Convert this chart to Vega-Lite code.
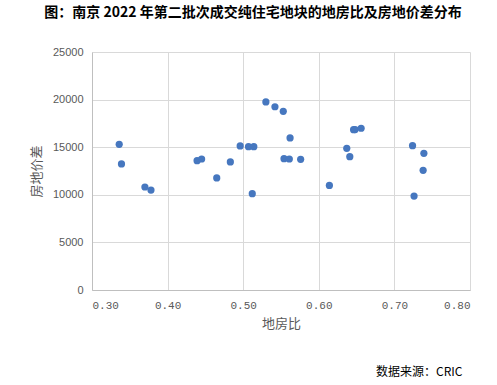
{
  "$schema": "https://vega.github.io/schema/vega-lite/v6.json",
  "width": 378,
  "height": 238,
  "autosize": {"type": "none"},
  "padding": {"left": 92, "top": 52, "right": 27, "bottom": 95},
  "background": "white",
  "title": {
    "text": "图：南京 2022 年第二批次成交纯住宅地块的地房比及房地价差分布",
    "font": "Noto Sans CJK SC",
    "fontSize": 14,
    "fontWeight": "bold",
    "color": "#000000",
    "anchor": "middle",
    "dx": -28,
    "offset": 26
  },
  "config": {
    "view": {"stroke": null}
  },
  "data": {
    "values": [
      {"r": 0.336, "d": 15300},
      {"r": 0.339, "d": 13240},
      {"r": 0.370, "d": 10820},
      {"r": 0.378, "d": 10500},
      {"r": 0.439, "d": 13580},
      {"r": 0.445, "d": 13760},
      {"r": 0.465, "d": 11770},
      {"r": 0.483, "d": 13450},
      {"r": 0.496, "d": 15130},
      {"r": 0.507, "d": 15060},
      {"r": 0.514, "d": 15060},
      {"r": 0.512, "d": 10120},
      {"r": 0.530, "d": 19750},
      {"r": 0.542, "d": 19250},
      {"r": 0.553, "d": 18770},
      {"r": 0.562, "d": 15970},
      {"r": 0.554, "d": 13790},
      {"r": 0.561, "d": 13760},
      {"r": 0.576, "d": 13730},
      {"r": 0.614, "d": 10990},
      {"r": 0.637, "d": 14880},
      {"r": 0.641, "d": 14000},
      {"r": 0.646, "d": 16840},
      {"r": 0.648, "d": 16850},
      {"r": 0.656, "d": 16990},
      {"r": 0.724, "d": 15160},
      {"r": 0.739, "d": 14360},
      {"r": 0.738, "d": 12570},
      {"r": 0.726, "d": 9870}
    ]
  },
  "layer": [
    {
      "mark": {"type": "circle", "size": 52, "color": "#4677BF", "opacity": 1},
      "encoding": {
        "x": {
          "field": "r", "type": "quantitative",
          "scale": {"domain": [0.3, 0.8], "nice": false, "zero": false},
          "axis": {
            "values": [0.3, 0.4, 0.5, 0.6, 0.7, 0.8],
            "format": ".2f",
            "title": "地房比",
            "titleFont": "Noto Sans CJK SC",
            "titleFontSize": 13,
            "titleFontWeight": "normal",
            "titleColor": "#595959",
            "titlePadding": 7,
            "labelFont": "Liberation Mono",
            "labelFontSize": 11,
            "labelColor": "#595959",
            "labelPadding": 9,
            "ticks": false,
            "domainColor": "#BFBFBF",
            "gridColor": "#D9D9D9",
            "grid": true
          }
        },
        "y": {
          "field": "d", "type": "quantitative",
          "scale": {"domain": [0, 25000], "nice": false},
          "axis": {
            "values": [0, 5000, 10000, 15000, 20000, 25000],
            "format": "d",
            "title": "房地价差",
            "titleFont": "Noto Sans CJK SC",
            "titleFontSize": 13,
            "titleFontWeight": "normal",
            "titleColor": "#595959",
            "titlePadding": 9,
            "labelFont": "Liberation Sans",
            "labelFontSize": 11,
            "labelColor": "#595959",
            "labelPadding": 9,
            "ticks": false,
            "domainColor": "#BFBFBF",
            "gridColor": "#D9D9D9",
            "grid": true
          }
        }
      }
    },
    {
      "mark": {"type": "point", "opacity": 0},
      "encoding": {
        "x": {
          "field": "r", "type": "quantitative",
          "scale": {"domain": [0.3, 0.8], "nice": false, "zero": false},
          "axis": {
            "orient": "bottom",
            "title": "数据来源：CRIC",
            "titleFont": "Noto Sans CJK SC",
            "titleFontSize": 12,
            "titleFontWeight": "normal",
            "titleColor": "#000000",
            "titleAnchor": "end",
            "titleAlign": "right",
            "titleX": 370,
            "titleY": 76,
            "labels": false,
            "ticks": false,
            "domain": false,
            "grid": false
          }
        }
      }
    }
  ],
  "resolve": {"scale": {"x": "independent"}}
}
